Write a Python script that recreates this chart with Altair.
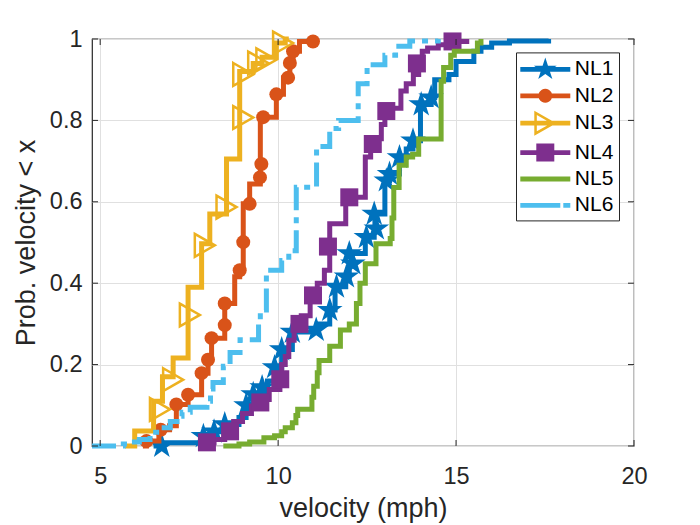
import math
import altair as alt
import pandas as pd

# ---------------- data ----------------
SERIES = ["NL1", "NL2", "NL3", "NL4", "NL5", "NL6"]
COLORS = ["#0072BD", "#D95319", "#EDB120", "#7E2F8E", "#77AC30", "#4DBEEE"]
X_TICKS = [5, 10, 15, 20]
Y_TICKS = [0, 0.2, 0.4, 0.6, 0.8, 1.0]

# empirical CDF steps (x where the step happens, y after the step)
NL1_x = [6.5, 6.73, 7.9, 8.2, 8.5, 8.9, 9.1, 9.3, 9.55, 9.7, 9.9, 10.1, 10.4, 11.05, 11.1, 11.45, 11.6, 11.9, 12.0, 12.05,
         12.45, 12.7, 12.72, 13.0, 13.13, 13.41, 13.6, 13.79, 14.0, 14.3, 14.4, 14.8, 15.0, 15.5, 15.7, 16.0, 16.5, 17.6]
NL1_y = [0.0, 0.008, 0.024, 0.035, 0.053, 0.07, 0.1, 0.127, 0.144, 0.16, 0.193, 0.237, 0.28, 0.285, 0.30, 0.334, 0.391, 0.416, 0.448, 0.473,
         0.513, 0.534, 0.57, 0.652, 0.668, 0.709, 0.73, 0.75, 0.839, 0.856, 0.9, 0.913, 0.945, 0.97, 0.98, 0.99, 0.995, 1.0]

NL2_x = [6.2, 6.3, 6.65, 6.95, 7.14, 7.47, 7.85, 8.03, 8.13, 8.5, 8.78, 8.92, 9.02, 9.2, 9.5, 9.95, 10.15, 10.33, 10.42, 10.6, 10.98, 11.07]
NL2_y = [0.0, 0.012, 0.04, 0.05, 0.102, 0.126, 0.179, 0.212, 0.265, 0.35, 0.416, 0.432, 0.595, 0.644, 0.808, 0.864, 0.905, 0.941, 0.97, 0.994, 1.0, 1.0]

NL3_x = [5.7, 5.97, 6.5, 6.75, 7.05, 7.47, 7.85, 8.08, 8.55, 8.92, 9.3, 9.55, 9.95, 10.2, 10.3]
NL3_y = [0.0, 0.037, 0.11, 0.17, 0.216, 0.39, 0.497, 0.57, 0.705, 0.92, 0.94, 0.955, 0.99, 1.0, 1.0]

NL4_x = [7.85, 8.0, 8.2, 8.5, 8.75, 9.0, 9.25, 9.6, 9.75, 10.05, 10.1, 10.2, 10.3, 10.45, 10.65, 10.9, 11.1, 11.3, 11.45, 11.9,
         12.45, 12.6, 12.75, 12.9, 13.0, 13.45, 13.6, 13.8, 13.95, 14.05, 14.2, 14.5, 14.8, 15.3]
NL4_y = [0.0, 0.008, 0.016, 0.033, 0.06, 0.08, 0.098, 0.114, 0.139, 0.17, 0.20, 0.22, 0.26, 0.30, 0.32, 0.37, 0.40, 0.432, 0.546, 0.611,
         0.71, 0.742, 0.755, 0.79, 0.83, 0.872, 0.89, 0.913, 0.94, 0.97, 0.978, 0.986, 0.994, 1.0]

NL5_x = [8.46, 8.9, 9.2, 9.6, 9.9, 10.1, 10.2, 10.4, 10.5, 10.55, 10.95, 11.0, 11.1, 11.15, 11.45, 11.75, 12.0, 12.2, 12.3, 12.45,
         12.75, 13.15, 13.2, 13.25, 13.4, 13.6, 13.78, 13.95, 14.58, 14.65, 14.85, 14.95, 15.6, 15.7]
NL5_y = [0.0, 0.005, 0.01, 0.02, 0.025, 0.035, 0.045, 0.057, 0.075, 0.09, 0.12, 0.147, 0.18, 0.21, 0.245, 0.285, 0.30, 0.35, 0.40, 0.448,
         0.497, 0.51, 0.56, 0.635, 0.69, 0.71, 0.717, 0.754, 0.896, 0.93, 0.96, 0.97, 0.99, 1.0]

NL6_x = [4.77, 5.65, 5.84, 6.1, 6.4, 6.7, 6.97, 7.16, 7.3, 7.53, 8.0, 8.1, 8.17, 8.46, 8.65, 8.93, 9.45, 9.5, 9.67, 10.1,
         10.3, 10.51, 11.08, 11.45, 11.7, 12.25, 12.5, 13.0, 13.3, 13.7, 14.5]
NL6_y = [0.0, 0.005, 0.01, 0.016, 0.034, 0.045, 0.06, 0.073, 0.083, 0.095, 0.11, 0.14, 0.156, 0.196, 0.23, 0.261, 0.30, 0.334, 0.432, 0.456,
         0.48, 0.636, 0.736, 0.78, 0.80, 0.89, 0.937, 0.96, 0.982, 0.995, 1.0]

# marker positions
NL1_mx = [6.73, 7.9, 8.2, 8.5, 9.1, 9.3, 9.55, 9.9, 10.1, 10.4, 11.07, 11.45, 11.64, 11.92, 12.1, 12.0, 12.48, 12.76, 12.7, 13.04, 13.13, 13.41, 13.79, 14.02, 14.3]
NL1_my = [0.0, 0.024, 0.035, 0.053, 0.1, 0.127, 0.144, 0.193, 0.237, 0.28, 0.285, 0.334, 0.391, 0.416, 0.448, 0.473, 0.513, 0.534, 0.57, 0.652, 0.668, 0.709, 0.75, 0.839, 0.856]
NL2_mx = [6.3, 6.7, 7.14, 7.47, 7.85, 8.03, 8.13, 8.5, 8.5, 8.92, 9.02, 9.2, 9.49, 9.53, 9.58, 9.95, 10.28, 10.33, 10.42, 10.98]
NL2_my = [0.012, 0.04, 0.102, 0.126, 0.179, 0.212, 0.265, 0.297, 0.35, 0.432, 0.501, 0.595, 0.66, 0.693, 0.808, 0.864, 0.905, 0.941, 0.97, 0.994]
NL3_mx = [6.68, 7.05, 7.52, 7.94, 8.55, 9.02, 9.02, 9.44, 9.67, 10.14]
NL3_my = [0.09, 0.163, 0.322, 0.493, 0.587, 0.807, 0.913, 0.941, 0.949, 0.99]
NL4_mx = [8.0, 8.65, 9.5, 10.06, 10.6, 10.98, 11.4, 12.0, 12.66, 13.04, 13.9, 14.9]
NL4_my = [0.009, 0.036, 0.107, 0.164, 0.30, 0.37, 0.49, 0.611, 0.742, 0.823, 0.94, 0.994]

LINES = {"NL1": (NL1_x, NL1_y), "NL2": (NL2_x, NL2_y), "NL3": (NL3_x, NL3_y),
         "NL4": (NL4_x, NL4_y), "NL5": (NL5_x, NL5_y), "NL6": (NL6_x, NL6_y)}
MARKS = {"NL1": (NL1_mx, NL1_my), "NL2": (NL2_mx, NL2_my), "NL3": (NL3_mx, NL3_my), "NL4": (NL4_mx, NL4_my)}

line_df = pd.concat([pd.DataFrame({"series": s, "x": xs, "y": ys, "i": range(len(xs))})
                     for s, (xs, ys) in LINES.items()], ignore_index=True)
mark_df = pd.concat([pd.DataFrame({"series": s, "x": xs, "y": ys})
                     for s, (xs, ys) in MARKS.items()], ignore_index=True)
legend_df = pd.DataFrame({"series": SERIES})

# ---------------- styles ----------------
FONT = "Liberation Sans"
AX = "#262626"
W, H = 542, 407
LW = 5

STAR = ("M0,-1L0.2245,-0.309L0.951,-0.309L0.3633,0.118L0.588,0.809L0,0.382"
        "L-0.588,0.809L-0.3633,0.118L-0.951,-0.309L-0.2245,-0.309Z")
TRI = "M-1,-1.14L1,0L-1,1.14Z"

# legend symbols (unit = 12 px): line segment + marker in one path
BAR = "M-2.083,-0.2H2.083V0.2H-2.083Z"


def poly_circle(r, n=24):
    pts = [(r * math.cos(2 * math.pi * k / n), r * math.sin(2 * math.pi * k / n)) for k in range(n)]
    return "M" + "L".join(f"{a:.3f},{b:.3f}" for a, b in pts) + "Z"


LEG_SHAPES = [
    BAR + STAR,
    BAR + poly_circle(0.58),
    BAR + "M-0.917,-1.04L0.917,0L-0.917,1.04Z" + "M-0.707,-0.679L-0.707,0.679L0.491,0Z",
    BAR + "M-0.75,-0.75H0.75V0.75H-0.75Z",
    BAR,
    "M-2.083,-0.2H1.25V0.2H-2.083Z" + "M1.5,-0.2H2.083V0.2H1.5Z",
]

legend = alt.Legend(
    title=None, orient="none", legendX=424, legendY=13.4, direction="vertical",
    padding=5, rowPadding=4.4, symbolSize=576, symbolStrokeWidth=0, symbolOpacity=1,
    symbolOffset=12.3, labelOffset=17.5, labelFontSize=21, labelFont=FONT,
    labelColor="#000000", fillColor="#ffffff", strokeColor=AX,
)

xscale = alt.Scale(domain=[4.77, 20], nice=False, zero=False)
yscale = alt.Scale(domain=[0, 1], nice=False, zero=False)
cscale = alt.Scale(domain=SERIES, range=COLORS)
xaxis = alt.Axis(values=X_TICKS, title="velocity (mph)", format="~g", labelPadding=18.5, titlePadding=7,
                 labelFlush=False, labelOverlap=False)
yaxis = alt.Axis(values=Y_TICKS, title="Prob. velocity < x", format="~g", labelPadding=10, titlePadding=9,
                 labelFlush=False, labelOverlap=False)
color = alt.Color("series:N", scale=cscale, legend=legend)

MARK_STYLE = {
    "NL1": dict(shape=STAR, size=729, filled=True, strokeWidth=0.5),
    "NL2": dict(shape="circle", size=196, filled=True, strokeWidth=0.5),
    "NL3": dict(shape=TRI, size=400, filled=False, strokeWidth=2.5),
    "NL4": dict(shape="square", size=324, filled=True, strokeWidth=0.5),
}

layers = []
for s, c in zip(SERIES, COLORS):
    kw = dict(interpolate="step-after", strokeWidth=LW, strokeCap="butt", strokeJoin="miter")
    if s == "NL6":
        kw["strokeDash"] = [24, 7, 6, 7]
    ln = alt.Chart(line_df).transform_filter(alt.datum.series == s).mark_line(**kw).encode(
        x=alt.X("x:Q", scale=xscale, axis=xaxis),
        y=alt.Y("y:Q", scale=yscale, axis=yaxis),
        color=color,
        order="i:Q",
    )
    layers.append(ln)
    if s in MARK_STYLE:
        pt = alt.Chart(mark_df).transform_filter(alt.datum.series == s).mark_point(
            color=c, opacity=1, **MARK_STYLE[s]
        ).encode(
            x=alt.X("x:Q", scale=xscale, axis=xaxis),
            y=alt.Y("y:Q", scale=yscale, axis=yaxis),
        )
        layers.append(pt)

# legend-only layer (no rows are drawn; the legend comes from the colour + shape scales)
leg_layer = alt.Chart(legend_df).transform_filter("false").mark_point(
    filled=True, size=576, strokeWidth=0, opacity=1
).encode(
    x=alt.X("x:Q", scale=xscale, axis=xaxis),
    y=alt.Y("y:Q", scale=yscale, axis=yaxis),
    color=color,
    shape=alt.Shape("series:N", scale=alt.Scale(domain=SERIES, range=LEG_SHAPES), legend=legend),
)
layers.append(leg_layer)

# inside tick marks (MATLAB style) on all four sides
xt = pd.DataFrame({"t": X_TICKS})
yt = pd.DataFrame({"t": Y_TICKS})
tick_kw = dict(color=AX, strokeWidth=1)
layers += [
    alt.Chart(xt).mark_rule(**tick_kw).encode(x=alt.X("t:Q", scale=xscale, axis=xaxis), y=alt.value(H), y2=alt.value(H - 6)),
    alt.Chart(xt).mark_rule(**tick_kw).encode(x=alt.X("t:Q", scale=xscale, axis=xaxis), y=alt.value(0), y2=alt.value(6)),
    alt.Chart(yt).mark_rule(**tick_kw).encode(y=alt.Y("t:Q", scale=yscale, axis=yaxis), x=alt.value(0), x2=alt.value(6)),
    alt.Chart(yt).mark_rule(**tick_kw).encode(y=alt.Y("t:Q", scale=yscale, axis=yaxis), x=alt.value(W), x2=alt.value(W - 6)),
]

chart = alt.layer(*layers).properties(
    width=W, height=H,
    padding={"left": 84, "top": 31, "right": 40, "bottom": 78},
    autosize=alt.AutoSizeParams(type="none"),
    background="#ffffff",
).configure_view(
    stroke=AX, strokeWidth=1.2,
).configure_axis(
    labelFont=FONT, titleFont=FONT, labelFontSize=23.5, titleFontSize=27,
    labelColor=AX, titleColor=AX, titleFontWeight="normal",
    grid=True, gridColor="#e0e0e0", gridWidth=1, domain=False, ticks=False,
)

chart.save("out.html", embed_options={"renderer": "svg", "actions": False})
